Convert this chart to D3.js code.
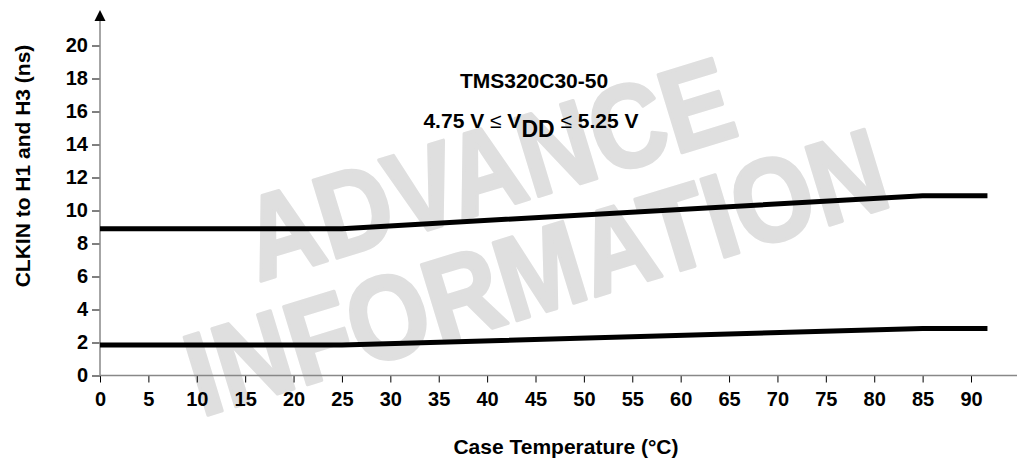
<!DOCTYPE html>
<html>
<head>
<meta charset="utf-8">
<script src="https://cdn.jsdelivr.net/npm/d3@7/dist/d3.min.js"></script>
<style>
  body { margin: 0; background: #fff; }
  text { font-family: "Liberation Sans", Arial, Helvetica, sans-serif; font-weight: bold; }
</style>
</head>
<body>
<div id="content"></div>
<script>
// Data
var temperatures = [0, 25, 85, 91.7];
var upperDelay = [8.9, 8.9, 10.9, 10.9];
var lowerDelay = [1.85, 1.85, 2.85, 2.85];
var xTicks = [0, 5, 10, 15, 20, 25, 30, 35, 40, 45, 50, 55, 60, 65, 70, 75, 80, 85, 90];
var yTicks = [0, 2, 4, 6, 8, 10, 12, 14, 16, 18, 20];

var width = 1017, height = 461;

var svg = d3.select('#content').append('svg')
    .attr('width', width)
    .attr('height', height);

var x = d3.scaleLinear().domain([0, 90]).range([100, 971]);
var y = d3.scaleLinear().domain([0, 20]).range([375.5, 45.5]);

// Watermark goes underneath everything else.
// A thin stroke in the same gray makes the letters as heavy as the original.
var mark = svg.append('g')
    .attr('fill', '#dfdfdf')
    .attr('stroke', '#dfdfdf')
    .attr('stroke-width', 3.5)
    .attr('stroke-linejoin', 'round')
    .attr('font-size', 118);
mark.append('text')
    .attr('transform', 'translate(500,208) rotate(-17)')
    .attr('text-anchor', 'middle')
    .attr('textLength', 505)
    .attr('lengthAdjust', 'spacingAndGlyphs')
    .text('ADVANCE');
mark.append('text')
    .attr('transform', 'translate(548,311) rotate(-17)')
    .attr('text-anchor', 'middle')
    .attr('textLength', 725)
    .attr('lengthAdjust', 'spacingAndGlyphs')
    .text('INFORMATION');

// x axis: gray line, black ticks
var xAxis = svg.append('g')
    .attr('transform', 'translate(0,' + y(0) + ')')
    .call(d3.axisBottom(x).tickValues(xTicks).tickSize(7).tickPadding(9).tickFormat(d3.format('d')));
xAxis.select('.domain').remove();
xAxis.selectAll('.tick line').attr('stroke', '#000');
xAxis.selectAll('.tick text')
    .attr('font-size', 20)
    .attr('font-family', '"Liberation Sans", Arial, sans-serif')
    .attr('font-weight', 'bold')
    .attr('fill', '#000');
svg.append('line')
    .attr('x1', x(0)).attr('x2', width)
    .attr('y1', y(0)).attr('y2', y(0))
    .attr('stroke', '#888').attr('stroke-width', 1.5);

// y axis
var yAxis = svg.append('g')
    .attr('transform', 'translate(' + x(0) + ',0)')
    .call(d3.axisLeft(y).tickValues(yTicks).tickSize(8).tickPadding(4).tickFormat(d3.format('d')));
yAxis.select('.domain').remove();
yAxis.selectAll('.tick line').attr('stroke', '#000');
yAxis.selectAll('.tick text')
    .attr('font-size', 20)
    .attr('font-family', '"Liberation Sans", Arial, sans-serif')
    .attr('font-weight', 'bold')
    .attr('fill', '#000');
svg.append('line')
    .attr('x1', x(0)).attr('x2', x(0))
    .attr('y1', y(0)).attr('y2', 18)
    .attr('stroke', '#888').attr('stroke-width', 1.5);
// arrow head on top of y axis
svg.append('path')
    .attr('d', 'M' + (x(0) - 5.5) + ',21L' + x(0) + ',10L' + (x(0) + 5.5) + ',21Z')
    .attr('fill', '#000');

// the two curves
var line = d3.line()
    .x(function(d) { return x(d[0]); })
    .y(function(d) { return y(d[1]); });

[upperDelay, lowerDelay].forEach(function(series) {
    svg.append('path')
        .datum(d3.zip(temperatures, series))
        .attr('d', line)
        .attr('fill', 'none')
        .attr('stroke', '#000')
        .attr('stroke-width', 5);
});

// labels
svg.append('text')
    .attr('x', 534).attr('y', 88)
    .attr('text-anchor', 'middle')
    .attr('font-size', 21)
    .text('TMS320C30-50');

var sub = svg.append('text')
    .attr('x', 531).attr('y', 128)
    .attr('text-anchor', 'middle')
    .attr('font-size', 21);
sub.append('tspan').text('4.75 V ');
sub.append('tspan').attr('font-weight', 'normal').text('\u2264');
sub.append('tspan').text(' V');
sub.append('tspan').attr('dy', 9).attr('font-size', 23).text('DD');
sub.append('tspan').attr('dy', -9).text(' ');
sub.append('tspan').attr('font-weight', 'normal').text('\u2264');
sub.append('tspan').text(' 5.25 V');

svg.append('text')
    .attr('x', 566).attr('y', 454)
    .attr('text-anchor', 'middle')
    .attr('font-size', 21)
    .text('Case Temperature (\u00b0C)');

svg.append('text')
    .attr('transform', 'translate(30,166) rotate(-90)')
    .attr('text-anchor', 'middle')
    .attr('font-size', 21)
    .text('CLKIN to H1 and H3 (ns)');
</script>
</body>
</html>
